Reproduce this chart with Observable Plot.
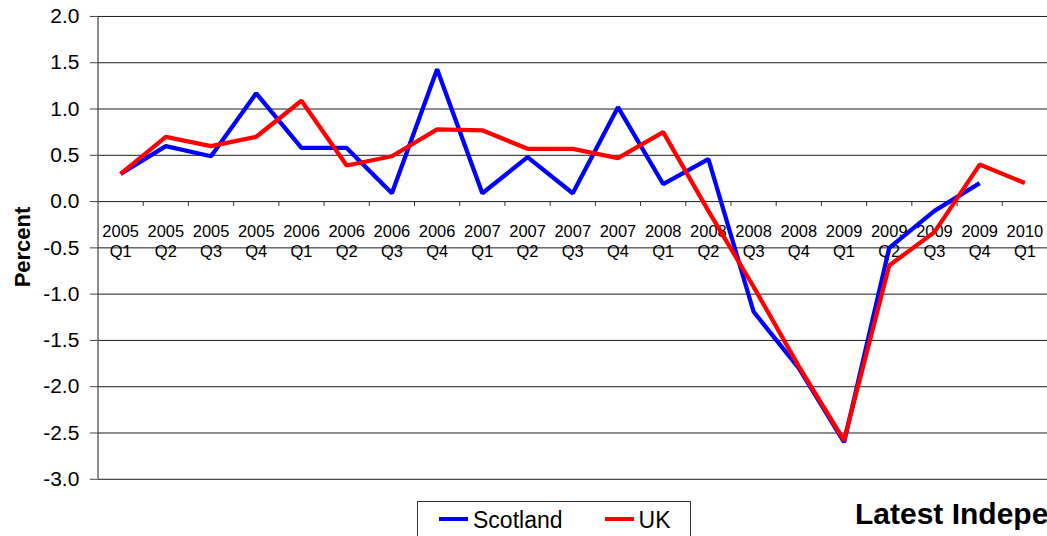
<!DOCTYPE html>
<html>
<head>
<meta charset="utf-8">
<script src="https://cdn.jsdelivr.net/npm/d3@7"></script>
<script src="https://cdn.jsdelivr.net/npm/@observablehq/plot@0.6"></script>
<style>
  html, body { margin: 0; padding: 0; background: #fff; overflow: hidden; width: 1047px; height: 536px; }
  body { position: relative; font-family: "Liberation Sans", Arial, sans-serif; color: #000; }
  #chart svg { display: block; }
  .legend { position: absolute; left: 417px; top: 501px; width: 274px; height: 50px; box-sizing: border-box;
            border: 1px solid #333; background: #fff; display: flex; align-items: flex-start;
            padding-left: 21px; padding-top: 6px; gap: 42px; }
  .legend .item { display: flex; align-items: flex-start; font-size: 23px; line-height: 24px; }
  .legend .sw { width: 29px; height: 4px; margin-top: 9px; margin-right: 5px; }
  .note { position: absolute; left: 855px; top: 499px; font-size: 30px; line-height: 30px; font-weight: bold; white-space: nowrap; }
  .ylabel { position: absolute; left: 23px; top: 247px; transform: translate(-50%, -50%) rotate(-90deg);
            font-size: 22px; font-weight: bold; line-height: 22px; white-space: nowrap; }
</style>
</head>
<body>
<div id="chart"></div>
<div class="ylabel" id="ylabel"></div>
<div class="legend" id="legend"></div>
<div class="note">Latest Independent Forecasts</div>
<script>
// ---- data ----
const periods = [
  "2005 Q1", "2005 Q2", "2005 Q3", "2005 Q4",
  "2006 Q1", "2006 Q2", "2006 Q3", "2006 Q4",
  "2007 Q1", "2007 Q2", "2007 Q3", "2007 Q4",
  "2008 Q1", "2008 Q2", "2008 Q3", "2008 Q4",
  "2009 Q1", "2009 Q2", "2009 Q3", "2009 Q4",
  "2010 Q1"
];
const scotland = [0.30, 0.60, 0.49, 1.17, 0.58, 0.58, 0.09, 1.43, 0.09, 0.48, 0.09, 1.02, 0.19, 0.46, -1.19, -1.80, -2.60, -0.50, -0.10, 0.20, null];
const uk       = [0.30, 0.70, 0.60, 0.70, 1.09, 0.39, 0.49, 0.78, 0.77, 0.57, 0.57, 0.47, 0.75, -0.10, -0.92, -1.78, -2.58, -0.69, -0.33, 0.40, 0.20];
const yTicks = [-3.0, -2.5, -2.0, -1.5, -1.0, -0.5, 0.0, 0.5, 1.0, 1.5, 2.0];
const seriesNames = ["Scotland", "UK"];
const yLabel = "Percent";

// ---- build ----
const colors = {"Scotland": "#0000ff", "UK": "#ff0000"};
const n = periods.length;
const rows = periods.map((p, i) => ({i, period: p, Scotland: scotland[i], UK: uk[i]}));
const bounds = d3.range(n + 1).map(i => i - 0.5);
const font = "'Liberation Sans', Arial, sans-serif";

const chart = Plot.plot({
  width: 1049,
  height: 490,
  marginLeft: 97.7,
  marginRight: 0,
  marginTop: 16,
  marginBottom: 10.3,
  x: {domain: [-0.5, n - 0.5], axis: null},
  y: {domain: [yTicks[0], yTicks[yTicks.length - 1]], axis: null},
  style: {fontFamily: font, background: "#fff", color: "#000", overflow: "visible"},
  marks: [
    Plot.ruleY(yTicks, {stroke: "#1a1a1a", strokeWidth: 1}),
    Plot.ruleX([bounds[0]], {stroke: "#444", strokeWidth: 1.2}),
    Plot.ruleX(bounds.slice(1), {y1: 0, y2: 0, insetBottom: -5, stroke: "#333", strokeWidth: 1}),
    Plot.axisY(yTicks, {
      anchor: "left", tickFormat: d => d.toFixed(1), fontSize: 21,
      tickSize: 7.7, tickPadding: 11, stroke: "#444", fill: "#000"
    }),
    Plot.text(rows, {
      x: "i", y: () => 0, text: d => d.period.replace(" ", "\n"),
      lineAnchor: "top", dy: 21.7, fontSize: 16.5, lineHeight: 1.2, fill: "#000"
    }),
    ...seriesNames.map(s => Plot.line(rows, {
      x: "i", y: s, stroke: colors[s], strokeWidth: 4.3,
      strokeLinejoin: "miter", strokeLinecap: "butt"
    }))
  ]
});
document.getElementById("chart").append(chart);
document.getElementById("ylabel").textContent = yLabel;

const legend = document.getElementById("legend");
for (const s of seriesNames) {
  const item = document.createElement("div");
  item.className = "item";
  const sw = document.createElement("span");
  sw.className = "sw";
  sw.style.background = colors[s];
  const t = document.createElement("span");
  t.textContent = s;
  item.append(sw, t);
  legend.append(item);
}
</script>
</body>
</html>
